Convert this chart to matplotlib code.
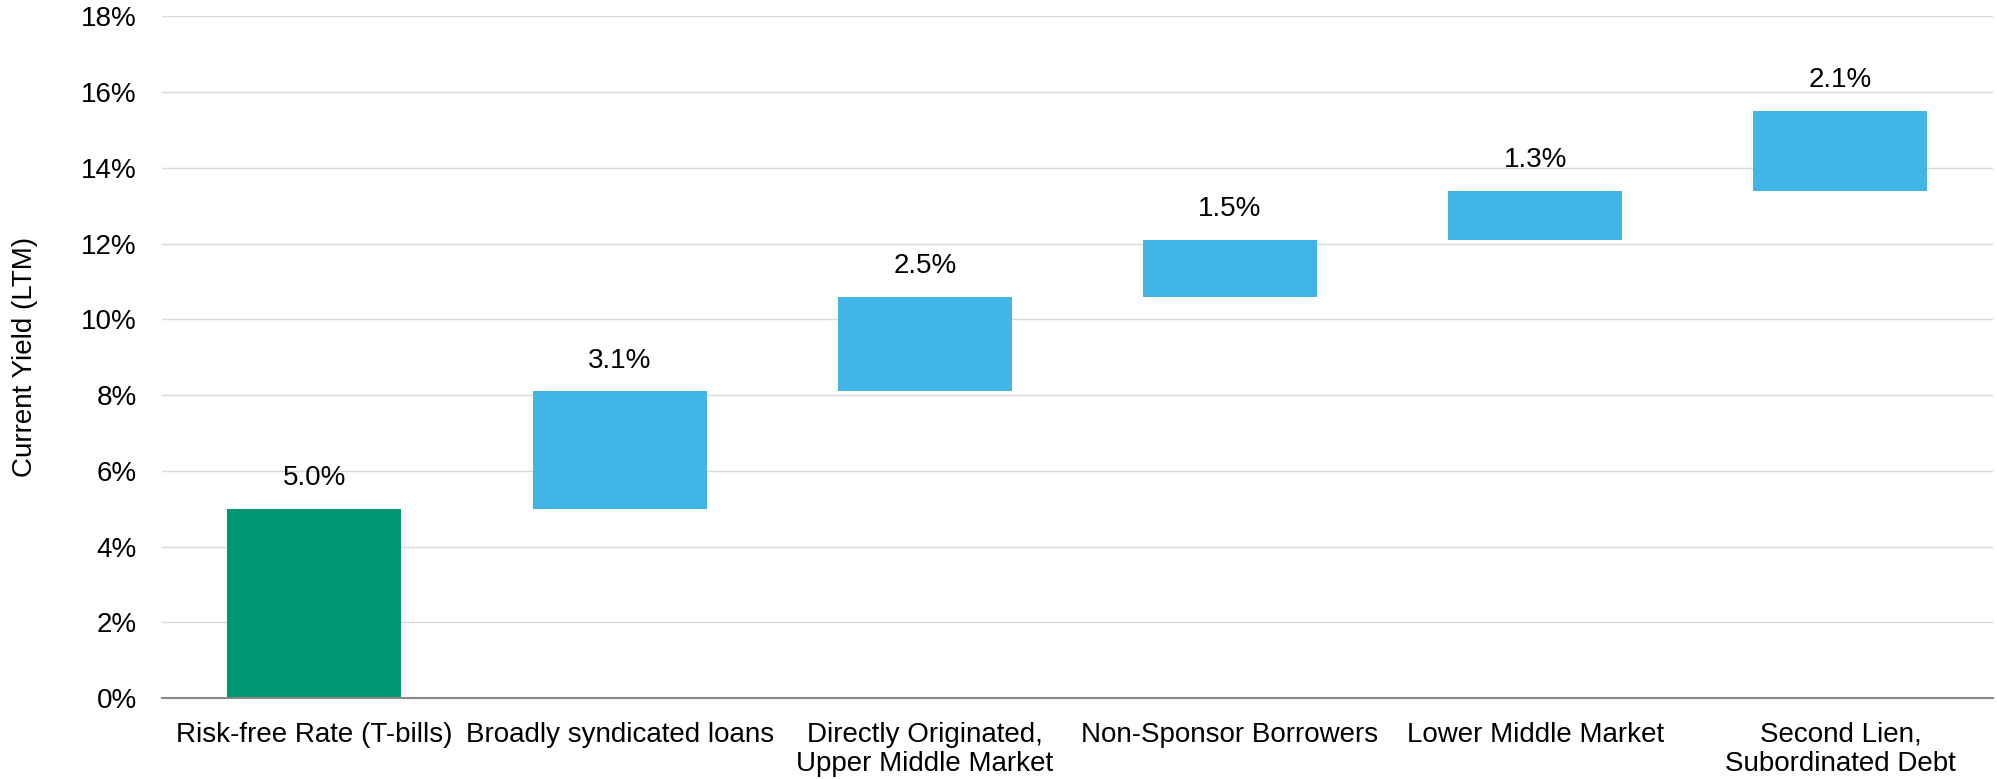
import matplotlib
matplotlib.use("Agg")
import matplotlib.pyplot as plt
from matplotlib.ticker import FuncFormatter

plt.rcParams['font.family'] = ['Liberation Sans', 'DejaVu Sans']

categories = [
    "Risk-free Rate (T-bills)",
    "Broadly syndicated loans",
    "Directly Originated,\nUpper Middle Market",
    "Non-Sponsor Borrowers",
    "Lower Middle Market",
    "Second Lien,\nSubordinated Debt",
]
increments = [5.0, 3.1, 2.5, 1.5, 1.3, 2.1]
yticks = [0, 2, 4, 6, 8, 10, 12, 14, 16, 18]

GREEN = "#009874"
BLUE = "#41B5E5"
FS = 20

# waterfall bases: each step starts where the previous one ended
bases = []
running = 0.0
for v in increments:
    bases.append(running)
    running += v

fig = plt.figure(figsize=(19.97, 7.79), dpi=100)
ax = fig.add_axes([0.081, 0.104, 0.917, 0.875])

colors = [GREEN] + [BLUE] * (len(increments) - 1)
x = list(range(len(categories)))
ax.bar(x, increments, bottom=bases, width=0.57, color=colors, zorder=3)

for xi, b, v in zip(x, bases, increments):
    ax.annotate(f"{v:.1f}%", (xi, b + v), xytext=(0, 22), textcoords="offset points",
                ha="center", va="center", fontsize=FS, color="black")

ax.set_xlim(-0.5, len(categories) - 0.5)
ax.set_ylim(0, 18)
ax.set_yticks(yticks)
ax.yaxis.set_major_formatter(FuncFormatter(lambda v, p: f"{v:.0f}%"))
ax.set_xticks(x)
ax.set_xticklabels(categories, fontsize=FS, linespacing=1.15)
ax.tick_params(axis="y", labelsize=FS, length=0, pad=18)
ax.tick_params(axis="x", length=0, pad=17)

ax.grid(axis="y", color="#d9d9d9", linewidth=1, zorder=0)
for s in ["top", "right", "left"]:
    ax.spines[s].set_visible(False)
ax.spines["bottom"].set_color("#888888")
ax.spines["bottom"].set_linewidth(1.5)
ax.spines["bottom"].set_zorder(4)

ax.set_ylabel("Current Yield (LTM)", fontsize=FS, labelpad=31)

fig.savefig("out.png", dpi=100)
